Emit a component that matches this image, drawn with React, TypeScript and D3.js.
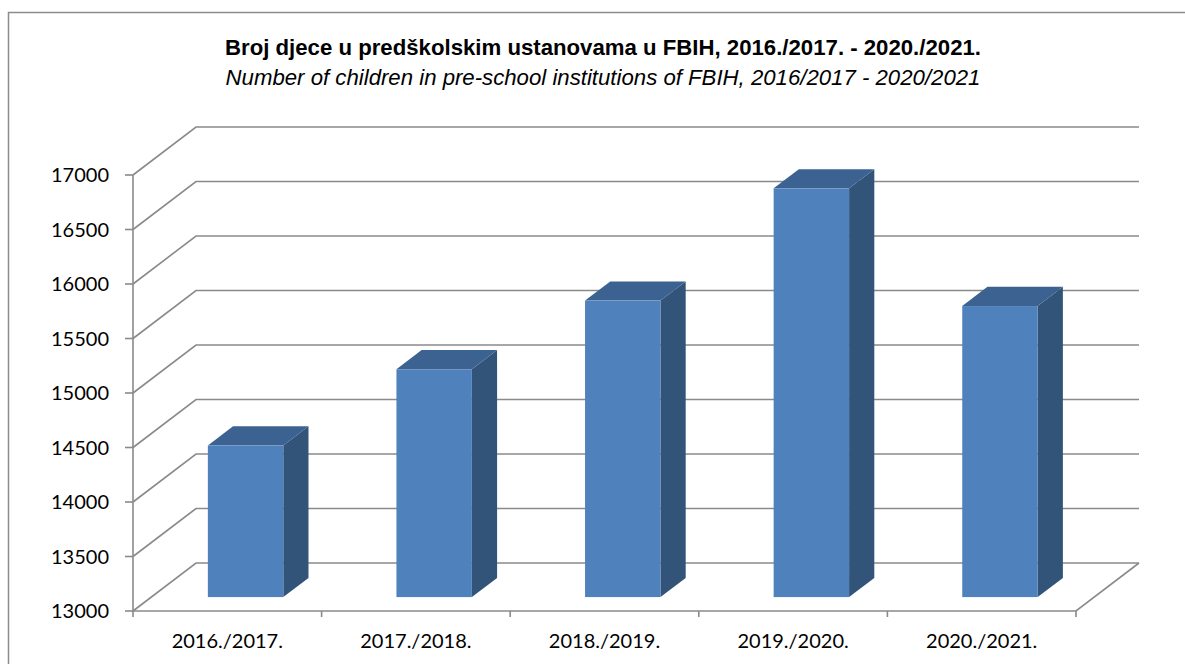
import { useEffect, useRef } from "react";
import * as d3 from "d3";

const categories = ["2016./2017.", "2017./2018.", "2018./2019.", "2019./2020.", "2020./2021."];
const childrenCount = [14390, 15090, 15720, 16750, 15670];
const yTicks = [13000, 13500, 14000, 14500, 15000, 15500, 16000, 16500, 17000];
const titleLine = "Broj djece u predškolskim ustanovama u FBIH, 2016./2017. - 2020./2021.";
const subtitleLine = "Number of children in pre-school institutions of FBIH, 2016/2017 - 2020/2021";

function App() {
  const node = useRef<SVGSVGElement | null>(null);

  useEffect(() => {
    const width = 1185;
    const height = 664;
    const svg = d3.select(node.current);
    svg.selectAll("*").remove();
    svg.attr("width", width).attr("height", height);

    // plot frame (front plane)
    const left = 133, right = 1076, bottom = 611, top = 175;
    // depth of the 3d box
    const depthX = 63, depthY = -48;
    const barFront = 0.29, barBack = 0.69;
    const grid = "#8a8a8a";
    const labelFont = "Lato, 'Open Sans', sans-serif";

    const yScale = d3.scaleLinear().domain([13000, 17000]).range([bottom, top]);
    const xScale = d3.scaleBand().domain(categories).range([left, right]).padding(0);

    // outer border
    svg.append("path")
      .attr("d", `M8.5,${height} L8.5,12.5 L${width},12.5`)
      .attr("fill", "none")
      .attr("stroke", "#8c8c8c")
      .attr("stroke-width", 1.5);

    // titles
    svg.append("text")
      .attr("x", 603).attr("y", 55)
      .attr("text-anchor", "middle")
      .attr("font-family", "'Liberation Sans Narrow', 'Arial Narrow', sans-serif")
      .attr("font-weight", "bold")
      .attr("font-size", 22.2)
      .attr("fill", "#000")
      .text(titleLine);
    svg.append("text")
      .attr("x", 603).attr("y", 85)
      .attr("text-anchor", "middle")
      .attr("font-family", "'Liberation Sans Narrow', 'Arial Narrow', sans-serif")
      .attr("font-style", "italic")
      .attr("font-size", 22.2)
      .attr("fill", "#000")
      .text(subtitleLine);

    // back wall gridlines + left wall diagonals
    const g = svg.append("g").attr("fill", "none").attr("stroke", grid).attr("stroke-width", 1.6);
    yTicks.forEach(t => {
      const y = yScale(t);
      g.append("path").attr("d", `M${left},${y} L${left + depthX},${y + depthY} L${right + depthX},${y + depthY}`);
    });
    // floor
    g.append("path").attr("d", `M${left},${bottom} L${right},${bottom} L${right + depthX},${bottom + depthY}`);
    // y axis line and ticks
    g.append("path").attr("d", `M${left},${top} L${left},${bottom}`);
    yTicks.forEach(t => {
      g.append("path").attr("d", `M${left - 8},${yScale(t)} L${left},${yScale(t)}`);
    });
    // x ticks
    [...categories.map(c => xScale(c) as number), right].forEach(x => {
      g.append("path").attr("d", `M${x},${bottom} L${x},${bottom + 6}`);
    });

    // y labels
    svg.append("g").selectAll("text")
      .data(yTicks)
      .enter()
      .append("text")
      .attr("x", 109)
      .attr("y", d => yScale(d) + 7)
      .attr("text-anchor", "end")
      .attr("font-family", labelFont)
      .attr("font-size", 20)
      .attr("fill", "#000")
      .text(d => d);

    // x labels
    svg.append("g").selectAll("text")
      .data(categories)
      .enter()
      .append("text")
      .attr("x", d => (xScale(d) as number) + xScale.bandwidth() / 2)
      .attr("y", 648)
      .attr("text-anchor", "middle")
      .attr("font-family", labelFont)
      .attr("font-size", 20)
      .attr("fill", "#000")
      .text(d => d);

    // 3d bars
    const bw = xScale.bandwidth() * 0.4;
    const fx = depthX * barFront, fy = depthY * barFront;
    const bx = depthX * barBack, by = depthY * barBack;
    const bars = svg.append("g");
    categories.forEach((c, i) => {
      const x0 = (xScale(c) as number) + (xScale.bandwidth() - bw) / 2 + fx;
      const x1 = x0 + bw;
      const yTop = yScale(childrenCount[i]) + fy;
      const yBot = yScale(13000) + fy;
      const dx = bx - fx, dy = by - fy;
      const b = bars.append("g");
      // side
      b.append("path")
        .attr("d", `M${x1},${yTop} L${x1 + dx},${yTop + dy} L${x1 + dx},${yBot + dy} L${x1},${yBot} Z`)
        .attr("fill", "#325479");
      // top
      b.append("path")
        .attr("d", `M${x0},${yTop} L${x0 + dx},${yTop + dy} L${x1 + dx},${yTop + dy} L${x1},${yTop} Z`)
        .attr("fill", "#3c6291");
      // front
      b.append("rect")
        .attr("x", x0)
        .attr("y", yTop)
        .attr("width", bw)
        .attr("height", yBot - yTop)
        .attr("fill", "#4f81bd");
    });
  }, []);

  return (
    <svg ref={node} style={{ position: "absolute", left: 0, top: 0, background: "#fff" }}></svg>
  );
}

export default App;
